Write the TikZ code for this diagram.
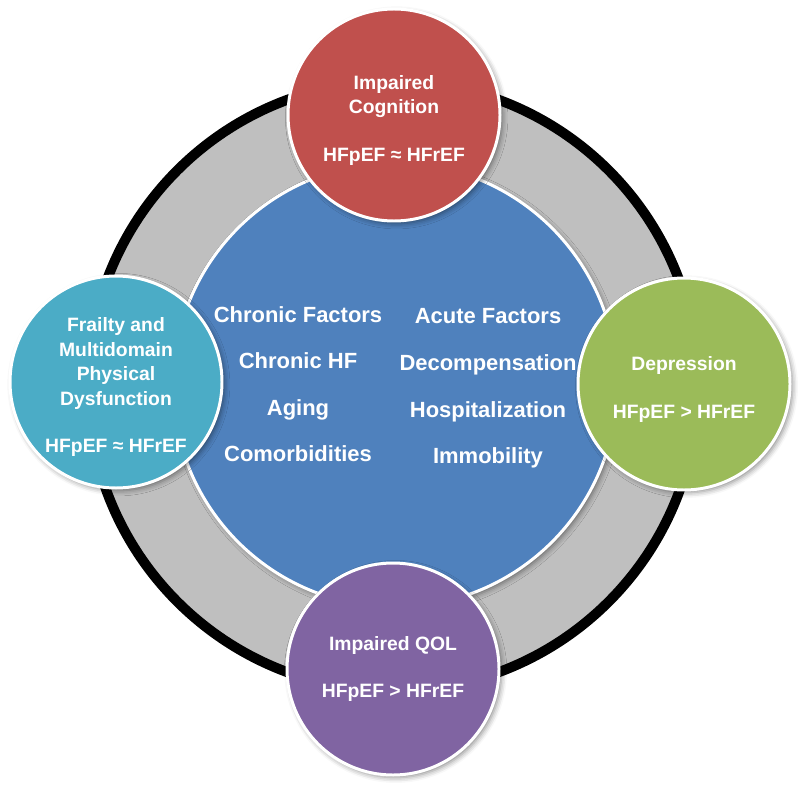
\documentclass[tikz,border=0pt]{standalone}
\usepackage{fontspec}
\setmainfont{Liberation Sans}
\usetikzlibrary{shadows.blur}
\definecolor{ringgray}{RGB}{191,191,191}
\definecolor{coreblue}{RGB}{79,129,189}
\definecolor{cogred}{RGB}{192,80,77}
\definecolor{depgreen}{RGB}{155,187,89}
\definecolor{qolpurple}{RGB}{128,100,162}
\definecolor{frailcyan}{RGB}{75,172,198}
\newcommand{\bubbletop}{\rule{0pt}{14pt}}
\tikzset{
  softshadow/.style={blur shadow={shadow xshift=1.5pt, shadow yshift=-1.5pt, shadow blur radius=3pt, shadow opacity=45}},
  bubble/.style={circle, draw=white, line width=1.7pt, minimum size=4.24cm, inner sep=0pt,
    align=center, text=white, font=\fontsize{11}{14}\selectfont\bfseries, softshadow},
  factors/.style={align=center, text=white, font=\fontsize{12.5}{26.5}\selectfont\bfseries}
}
\begin{document}
\begin{tikzpicture}
    \useasboundingbox (0,0) rectangle (16,-15.68);
    % Draw ring
    \coordinate (hub) at (7.86,-7.72);
    \draw [line width=0.2cm, fill=ringgray] (hub) circle[radius=6.1];
    % Draw core with factors
    \node [circle, fill=coreblue, draw=white, line width=1.7pt, minimum size=8.88cm, softshadow] (core) at (7.9,-7.7) {};
    \node [factors] (chronic) at (5.96,-7.68) {Chronic Factors\\Chronic HF\\Aging\\Comorbidities};
    \node [factors] (acute) at (9.76,-7.77) {Acute Factors\\Decompensation\\Hospitalization\\Immobility};
    % Draw outcomes
    \node [bubble, fill=cogred] (cognition) at (7.88,-2.3) {\bubbletop Impaired\\Cognition\\[13pt]HFpEF ≈ HFrEF};
    \node [bubble, fill=frailcyan] (frailty) at (2.32,-7.64) {\bubbletop Frailty and\\Multidomain\\Physical\\Dysfunction\\[13pt]HFpEF ≈ HFrEF};
    \node [bubble, fill=depgreen] (depression) at (13.68,-7.68) {\bubbletop Depression\\[13pt]HFpEF > HFrEF};
    \node [bubble, fill=qolpurple] (qol) at (7.86,-13.38) {Impaired QOL\\[13pt]HFpEF > HFrEF};
\end{tikzpicture}
\end{document}
